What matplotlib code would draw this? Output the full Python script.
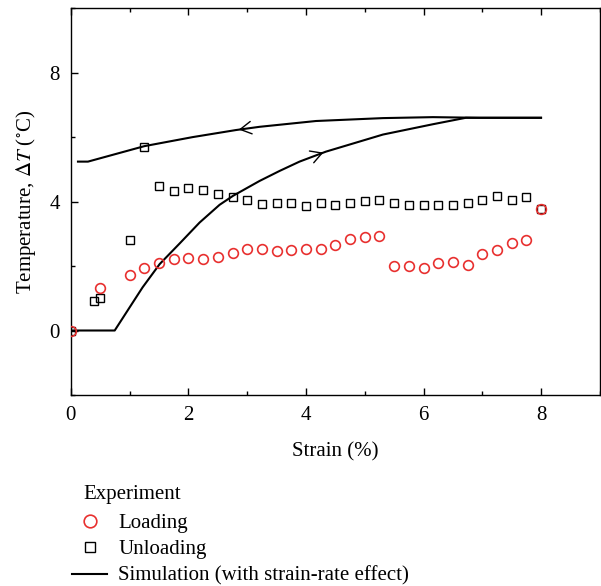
import numpy as np
import matplotlib
matplotlib.use('Agg')
import matplotlib.pyplot as plt
from matplotlib.ticker import MultipleLocator

plt.rcParams['font.family'] = ['Liberation Serif', 'DejaVu Serif']
plt.rcParams['mathtext.fontset'] = 'stix'

#-------------------------------------------------------------------------------
#DATA

#experiment, loading (red circles)
load_x = [0.0, 0.5, 1.0, 1.25, 1.5, 1.75, 2.0, 2.25, 2.5, 2.75, 3.0, 3.25, 3.5,
          3.75, 4.0, 4.25, 4.5, 4.75, 5.0, 5.25, 5.5, 5.75, 6.0, 6.25, 6.5,
          6.75, 7.0, 7.25, 7.5, 7.75, 8.0]
load_y = [0.0, 1.32, 1.73, 1.93, 2.10, 2.21, 2.25, 2.21, 2.29, 2.40, 2.53, 2.53,
          2.46, 2.49, 2.53, 2.53, 2.65, 2.85, 2.90, 2.93, 2.01, 2.01, 1.93, 2.10,
          2.13, 2.04, 2.37, 2.49, 2.73, 2.82, 3.77]

#experiment, unloading (black squares)
unload_x = [0.0, 0.4, 0.5, 1.0, 1.25, 1.5, 1.75, 2.0, 2.25, 2.5, 2.75, 3.0, 3.25,
            3.5, 3.75, 4.0, 4.25, 4.5, 4.75, 5.0, 5.25, 5.5, 5.75, 6.0, 6.25,
            6.5, 6.75, 7.0, 7.25, 7.5, 7.75, 8.0]
unload_y = [0.0, 0.90, 1.01, 2.82, 5.69, 4.49, 4.33, 4.41, 4.37, 4.25, 4.13, 4.05,
            3.94, 3.97, 3.97, 3.87, 3.95, 3.90, 3.97, 4.02, 4.06, 3.97, 3.90, 3.90,
            3.90, 3.90, 3.97, 4.06, 4.17, 4.05, 4.13, 3.77]

#simulation (with strain-rate effect)
sim_load_x = [0.0, 0.745, 1.0, 1.22, 1.51, 1.85, 2.19, 2.53, 2.76, 3.21, 3.55,
              3.89, 4.34, 5.31, 6.16, 6.72, 8.0]
sim_load_y = [0.0, 0.0, 0.72, 1.34, 2.06, 2.70, 3.35, 3.90, 4.18, 4.64, 4.95,
              5.24, 5.55, 6.08, 6.40, 6.60, 6.60]
sim_unload_x = [8.0, 6.95, 6.16, 5.31, 4.17, 3.21, 2.81, 2.07, 1.25, 0.29, 0.12]
sim_unload_y = [6.60, 6.60, 6.62, 6.59, 6.50, 6.32, 6.22, 6.00, 5.72, 5.24, 5.24]

red = '#e8302f'
fs = 15

#-------------------------------------------------------------------------------
#PLOT

fig = plt.figure(figsize=(6.01, 5.86), dpi=100)
ax = fig.add_axes([0.118, 0.326, 0.880, 0.660])

ax.plot(sim_load_x, sim_load_y, 'k-', lw=1.5, label='Simulation (with strain-rate effect)', zorder=2)
ax.plot(sim_unload_x, sim_unload_y, 'k-', lw=1.5, zorder=2)
ax.plot(unload_x, unload_y, 's', ms=6.0, mfc='none', mec='k', mew=1.0, ls='none',
        label='Unloading', zorder=3)
ax.plot(load_x, load_y, 'o', ms=7.0, mfc='none', mec=red, mew=1.2, ls='none',
        label='Loading', zorder=4)

#direction arrows on the simulation curves
arrow = dict(arrowstyle='->,head_length=0.8,head_width=0.45', lw=1.0, color='k')
ax.annotate('', xy=(4.34, 5.55), xytext=(4.22, 5.47), arrowprops=arrow)
ax.annotate('', xy=(2.81, 6.22), xytext=(2.95, 6.26), arrowprops=arrow)

ax.set_xlim(0, 9)
ax.set_ylim(-2, 10)
ax.xaxis.set_major_locator(MultipleLocator(2))
ax.xaxis.set_minor_locator(MultipleLocator(1))
ax.yaxis.set_major_locator(MultipleLocator(4))
ax.yaxis.set_minor_locator(MultipleLocator(2))
ax.tick_params(which='both', direction='in', top=True, right=False, labelsize=fs, width=1.0)
ax.tick_params(which='major', length=5, pad=8)
ax.tick_params(which='minor', length=3)
for s in ax.spines.values():
    s.set_linewidth(1.0)

ax.set_xlabel('Strain (%)', fontsize=fs, labelpad=12)
ax.set_ylabel(r'Temperature, $\Delta T$ ($^{\circ}$C)', fontsize=fs, labelpad=8)

#legend below the axes
fig.text(83/601, 1 - 495/586, 'Experiment', fontsize=fs, va='center', ha='left')
h, l = ax.get_legend_handles_labels()
order = [2, 1, 0]
fig.legend([h[i] for i in order], [l[i] for i in order], loc='upper left',
           bbox_to_anchor=(62/601, 1 - 503/586), frameon=False, fontsize=fs,
           handlelength=1.65, handletextpad=0.55, labelspacing=0.33, borderpad=0,
           markerscale=1.3)

fig.savefig('out.png', dpi=100)
